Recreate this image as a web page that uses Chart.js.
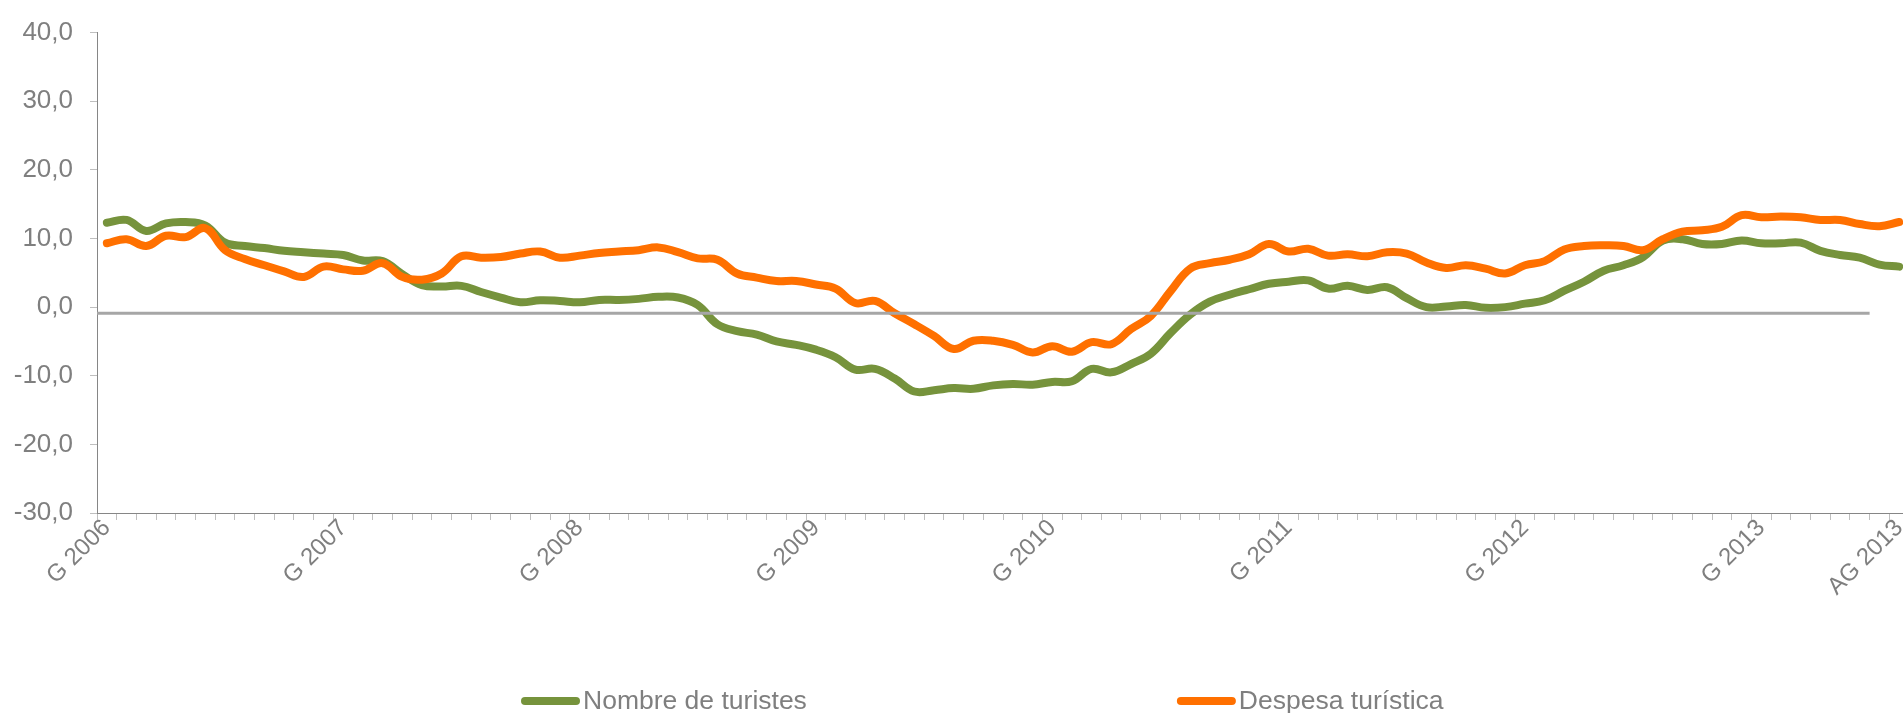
<!DOCTYPE html>
<html>
<head>
<meta charset="utf-8">
<script src="https://cdn.jsdelivr.net/npm/chart.js@4.4.1/dist/chart.umd.min.js"></script>
<style>
  html, body { margin: 0; padding: 0; background: #ffffff; overflow: hidden; }
  #wrap { position: relative; width: 1929px; height: 713px; }
</style>
</head>
<body>
<div id="wrap"><canvas id="chart"></canvas></div>
<script>
// ---- data ----
const years = [2006, 2007, 2008, 2009, 2010, 2011, 2012, 2013];
const monthAbbr = ['G', 'F', 'MÇ', 'AB', 'MG', 'JN', 'JL', 'AG', 'S', 'O', 'N', 'D'];
const lastYearMonths = 8; // G..AG 2013

const categories = [];
years.forEach((y, yi) => {
  monthAbbr.forEach((m, k) => {
    if (yi < years.length - 1 || k < lastYearMonths) categories.push(m + ' ' + y);
  });
});

const nombreTuristes = [
  12.3, 12.7, 11.1, 12.2, 12.4, 11.9, 9.4, 8.9, 8.6, 8.2, 8.0, 7.8,
  7.6, 6.8, 6.7, 4.8, 3.2, 3.0, 3.1, 2.2, 1.4, 0.7, 1.0, 0.9,
  0.7, 1.05, 1.05, 1.2, 1.5, 1.4, 0.3, -2.5, -3.5, -4.0, -5.0, -5.5,
  -6.2, -7.3, -9.1, -9.0, -10.4, -12.3, -12.1, -11.8, -11.9, -11.4, -11.2, -11.3,
  -10.9, -10.8, -9.0, -9.5, -8.3, -6.8, -3.8, -1.1, 0.8, 1.8, 2.6, 3.4,
  3.7, 3.9, 2.7, 3.1, 2.5, 2.9, 1.3, 0.0, 0.1, 0.3, -0.1, 0.0,
  0.5, 1.0, 2.4, 3.7, 5.3, 6.1, 7.3, 9.7, 9.9, 9.2, 9.2, 9.7,
  9.3, 9.3, 9.4, 8.2, 7.6, 7.2, 6.2, 5.9
];

const despesaTuristica = [
  9.3, 9.9, 8.9, 10.4, 10.2, 11.5, 8.3, 7.0, 6.1, 5.2, 4.4, 5.9,
  5.5, 5.3, 6.4, 4.4, 4.0, 4.9, 7.4, 7.2, 7.3, 7.8, 8.1, 7.2,
  7.5, 7.9, 8.1, 8.3, 8.7, 8.0, 7.1, 6.9, 4.9, 4.3, 3.8, 3.8,
  3.3, 2.7, 0.6, 0.9, -0.9, -2.5, -4.2, -6.1, -4.9, -4.9, -5.5, -6.6,
  -5.7, -6.5, -5.1, -5.4, -3.2, -1.3, 2.3, 5.6, 6.4, 6.9, 7.7, 9.2,
  8.1, 8.5, 7.5, 7.7, 7.4, 8.0, 7.8, 6.5, 5.7, 6.1, 5.6, 4.9,
  6.1, 6.7, 8.4, 8.9, 9.0, 8.9, 8.3, 9.9, 11.0, 11.2, 11.7, 13.4,
  13.1, 13.2, 13.1, 12.7, 12.7, 12.1, 11.8, 12.4
];

// grey reference line: value and span in category units (from left edge of first month to end of month 89)
const baselineValue = -0.9;
const baselineSpan = [-0.5, 89.5];

const yMin = -30, yMax = 40, yStep = 10;
const labelEvery = 12;

// ---- styling ----
const GREEN = '#76933C';
const ORANGE = '#FF7000';
const GREY_LINE = '#A6A6A6';
const TEXT = '#7F7F7F';
const AXIS = '#868686';
const TICK = '#BFBFBF';
const FONT = 'Liberation Sans, Arial, sans-serif';

const bottomLegend = {
  id: 'bottomLegend',
  afterDraw(chart, args, opts) {
    const ctx = chart.ctx;
    ctx.save();
    ctx.font = opts.fontSize + 'px ' + FONT;
    ctx.textBaseline = 'alphabetic';
    ctx.textAlign = 'left';
    let x = opts.left;
    chart.data.datasets.forEach(ds => {
      if (ds.inLegend === false) return;
      ctx.fillStyle = ds.borderColor;
      ctx.beginPath();
      ctx.roundRect(x, opts.boxY - opts.boxH / 2, opts.boxW, opts.boxH, opts.boxH / 2);
      ctx.fill();
      x += opts.boxW + opts.textGap;
      ctx.fillStyle = opts.color;
      ctx.fillText(ds.label, x, opts.baseline);
      x += ctx.measureText(ds.label).width + opts.gap;
    });
    ctx.restore();
  }
};

const ctx = document.getElementById('chart').getContext('2d');
new Chart(ctx, {
  type: 'line',
  data: {
    labels: categories,
    datasets: [
      {
        label: 'Nombre de turistes',
        data: nombreTuristes,
        borderColor: GREEN, backgroundColor: GREEN,
        borderWidth: 8, pointRadius: 0, tension: 0.4,
        borderCapStyle: 'round', borderJoinStyle: 'round',
        xAxisID: 'x', order: 2
      },
      {
        label: 'Despesa turística',
        data: despesaTuristica,
        borderColor: ORANGE, backgroundColor: ORANGE,
        borderWidth: 8, pointRadius: 0, tension: 0.4,
        borderCapStyle: 'round', borderJoinStyle: 'round',
        xAxisID: 'x', order: 1
      },
      {
        label: 'ref',
        inLegend: false,
        data: baselineSpan.map(v => ({ x: v, y: baselineValue })),
        borderColor: GREY_LINE, backgroundColor: GREY_LINE,
        borderWidth: 3, pointRadius: 0, tension: 0,
        xAxisID: 'xg', order: 0
      }
    ]
  },
  options: {
    responsive: true,
    maintainAspectRatio: false,
    animation: false,
    devicePixelRatio: 1,
    events: [],
    layout: { padding: { top: 25, left: 0, right: 20, bottom: 100 } },
    plugins: {
      legend: { display: false },
      tooltip: { enabled: false },
      bottomLegend: {
        left: 521, gap: 370, boxW: 59, boxH: 8, textGap: 3,
        boxY: 701, baseline: 709, fontSize: 26.5, color: TEXT
      }
    },
    scales: {
      x: {
        type: 'category',
        offset: true,
        grid: { offset: true, drawOnChartArea: false, drawTicks: true, tickLength: 7, tickColor: TICK, tickWidth: 1 },
        border: { color: AXIS, width: 1 },
        ticks: {
          autoSkip: false, maxRotation: 45, minRotation: 45, padding: -6,
          color: TEXT, font: { family: FONT, size: 24 },
          callback: function (v, i) {
            return (i % labelEvery === 0 || i === categories.length - 1) ? this.getLabelForValue(v) : '';
          }
        },
        afterFit: s => { s.height = 100; }
      },
      xg: {
        type: 'linear', display: false,
        min: -0.5, max: categories.length - 0.5
      },
      y: {
        min: yMin, max: yMax,
        grid: { drawOnChartArea: false, drawTicks: true, tickLength: 7, tickColor: TICK },
        border: { color: AXIS, width: 1 },
        ticks: {
          stepSize: yStep, padding: 17, color: TEXT, font: { family: FONT, size: 26 },
          callback: v => v.toFixed(1).replace('.', ',')
        },
        afterFit: s => { s.width = 97; }
      }
    }
  },
  plugins: [bottomLegend]
});
</script>
</body>
</html>
